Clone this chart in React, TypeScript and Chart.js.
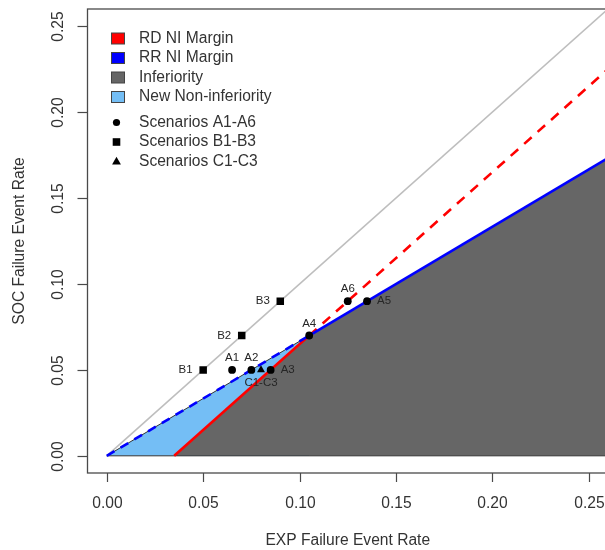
import React, { useEffect, useRef } from "react";
import { Chart, registerables } from "chart.js";

Chart.register(...registerables);

const FONT = "'Liberation Sans', Arial, Helvetica, sans-serif";

// Axis ticks
const xTickValues = [0, 0.05, 0.1, 0.15, 0.2, 0.25];
const yTickValues = [0, 0.05, 0.1, 0.15, 0.2, 0.25];
const xTickLabels = ["0.00", "0.05", "0.10", "0.15", "0.20", "0.25"];
const yTickLabels = ["0.00", "0.05", "0.10", "0.15", "0.20", "0.25"];
const xTitle = "EXP Failure Event Rate";
const yTitle = "SOC Failure Event Rate";

// Margin lines (EXP, SOC)
const diagonalX = [0, 0.27];
const diagonalY = [0, 0.27];
const rdSolidX = [0.035, 0.105];
const rdSolidY = [0, 0.07];
const rdDashX = [0.105, 0.3];
const rdDashY = [0.07, 0.265];
const rrSolidX = [0.105, 0.27];
const rrSolidY = [0.07, 0.18];
const rrDashX = [0, 0.105];
const rrDashY = [0, 0.07];
const baseX = [0, 0.27];
const baseY = [0, 0];

// Regions
const inferiorityX = [0.035, 0.105, 0.27];
const inferiorityY = [0, 0.07, 0.18];
const newNiX = [0, 0.105];
const newNiY = [0, 0.07];

// Scenarios
const scenarioALabels = ["A1", "A2", "A3", "A4", "A5", "A6"];
const scenarioAX = [0.065, 0.075, 0.085, 0.105, 0.135, 0.125];
const scenarioAY = [0.05, 0.05, 0.05, 0.07, 0.09, 0.09];
const scenarioAPlace = ["top", "top", "right", "top", "right", "top"];
const scenarioBLabels = ["B1", "B2", "B3"];
const scenarioBX = [0.05, 0.07, 0.09];
const scenarioBY = [0.05, 0.07, 0.09];
const scenarioBPlace = ["left", "left", "left"];
const scenarioCLabels = ["C1-C3"];
const scenarioCX = [0.08];
const scenarioCY = [0.05];
const scenarioCPlace = ["bottom"];

// Legend
const legendFillLabels = ["RD NI Margin", "RR NI Margin", "Inferiority", "New Non-inferiority"];
const legendFillColors = ["#ff0000", "#0000ff", "#666666", "#74bef5"];
const legendSymbolLabels = ["Scenarios A1-A6", "Scenarios B1-B3", "Scenarios C1-C3"];
const legendSymbolStyles = ["circle", "rect", "triangle"];

const pts = (xs: number[], ys: number[]) => xs.map((x, i) => ({ x, y: ys[i] }));

const decorPlugin = {
  id: "decor",
  afterDatasetsDraw(chart: any) {
    const { ctx, chartArea: a, scales } = chart;
    const xs = scales.x;
    const ys = scales.y;
    ctx.save();

    // point labels
    ctx.font = `11.5px ${FONT}`;
    ctx.fillStyle = "#262626";
    const put = (labels: string[], X: number[], Y: number[], place: string[]) => {
      labels.forEach((lab, i) => {
        const px = xs.getPixelForValue(X[i]);
        const py = ys.getPixelForValue(Y[i]);
        const p = place[i];
        ctx.textBaseline = "middle";
        if (p === "top") {
          ctx.textAlign = "center";
          ctx.fillText(lab, px, py - 12);
        } else if (p === "bottom") {
          ctx.textAlign = "center";
          ctx.fillText(lab, px, py + 12.5);
        } else if (p === "left") {
          ctx.textAlign = "right";
          ctx.fillText(lab, px - 10.5, py);
        } else {
          ctx.textAlign = "left";
          ctx.fillText(lab, px + 10, py);
        }
      });
    };
    put(scenarioALabels, scenarioAX, scenarioAY, scenarioAPlace);
    put(scenarioBLabels, scenarioBX, scenarioBY, scenarioBPlace);
    put(scenarioCLabels, scenarioCX, scenarioCY, scenarioCPlace);

    // box
    ctx.strokeStyle = "#4a4a4a";
    ctx.lineWidth = 1.3;
    ctx.strokeRect(a.left, a.top, a.right - a.left, a.bottom - a.top);

    // x axis ticks
    ctx.font = `15.6px ${FONT}`;
    ctx.fillStyle = "#333333";
    ctx.lineWidth = 1.2;
    xTickValues.forEach((v, i) => {
      const px = Math.round(xs.getPixelForValue(v)) + 0.5;
      ctx.beginPath();
      ctx.moveTo(px, a.bottom);
      ctx.lineTo(px, a.bottom + 9);
      ctx.stroke();
      ctx.textAlign = "center";
      ctx.textBaseline = "middle";
      ctx.fillText(xTickLabels[i], px, a.bottom + 31);
    });
    // y axis ticks
    yTickValues.forEach((v, i) => {
      const py = Math.round(ys.getPixelForValue(v)) + 0.5;
      ctx.beginPath();
      ctx.moveTo(a.left, py);
      ctx.lineTo(a.left - 10, py);
      ctx.stroke();
      ctx.save();
      ctx.translate(a.left - 29, py);
      ctx.rotate(-Math.PI / 2);
      ctx.textAlign = "center";
      ctx.textBaseline = "middle";
      ctx.fillText(yTickLabels[i], 0, 0);
      ctx.restore();
    });

    // titles
    ctx.textAlign = "center";
    ctx.textBaseline = "middle";
    ctx.fillText(xTitle, (a.left + a.right) / 2, a.bottom + 68);
    ctx.save();
    ctx.translate(20, (a.top + a.bottom) / 2);
    ctx.rotate(-Math.PI / 2);
    ctx.fillText(yTitle, 0, 0);
    ctx.restore();

    // legend
    const lx = a.left + 24;
    const tx = a.left + 51.5;
    ctx.textAlign = "left";
    ctx.textBaseline = "middle";
    legendFillLabels.forEach((lab, i) => {
      const cy = a.top + 29.5 + i * 19.5;
      ctx.fillStyle = legendFillColors[i];
      ctx.fillRect(lx, cy - 5.5, 13, 11);
      ctx.strokeStyle = "#444";
      ctx.lineWidth = 1;
      ctx.strokeRect(lx, cy - 5.5, 13, 11);
      ctx.fillStyle = "#333333";
      ctx.fillText(lab, tx, cy);
    });
    legendSymbolLabels.forEach((lab, i) => {
      const cy = a.top + 113.5 + i * 19.5;
      const cx = lx + 5;
      ctx.fillStyle = "#000";
      ctx.beginPath();
      if (legendSymbolStyles[i] === "circle") {
        ctx.arc(cx, cy, 3.6, 0, Math.PI * 2);
      } else if (legendSymbolStyles[i] === "rect") {
        ctx.rect(cx - 3.8, cy - 3.8, 7.6, 7.6);
      } else {
        ctx.moveTo(cx, cy - 4.8);
        ctx.lineTo(cx + 4.4, cy + 3);
        ctx.lineTo(cx - 4.4, cy + 3);
        ctx.closePath();
      }
      ctx.fill();
      ctx.fillStyle = "#333333";
      ctx.fillText(lab, tx, cy);
    });

    ctx.restore();
  },
};

export default function App() {
  const ref = useRef<HTMLCanvasElement | null>(null);
  useEffect(() => {
    if (!ref.current) return;
    const line = (data: any, color: string, width: number, dash: number[] = []) => ({
      data,
      borderColor: color,
      borderWidth: width,
      borderDash: dash,
      pointRadius: 0,
      fill: false,
      tension: 0,
      showLine: true,
    });
    const scatter = (data: any, style: string, radius: number) => ({
      data,
      showLine: false,
      pointStyle: style,
      pointRadius: radius,
      pointBackgroundColor: "#000",
      pointBorderColor: "#000",
      pointBorderWidth: 0,
      borderColor: "#000",
      backgroundColor: "#000",
    });
    const chart = new Chart(ref.current, {
      type: "line",
      data: {
        datasets: [
          scatter(pts(scenarioCX, scenarioCY), "triangle", 4.6),
          scatter(pts(scenarioBX, scenarioBY), "rect", 5.3),
          scatter(pts(scenarioAX, scenarioAY), "circle", 3.9),
          line(pts(rrSolidX, rrSolidY), "#0000ff", 2.6),
          line(pts(rrDashX, rrDashY), "#0000ff", 2.6, [9, 7]),
          line(pts(rdDashX, rdDashY), "#ff0000", 2.6, [10, 8]),
          line(pts(rdSolidX, rdSolidY), "#ff0000", 2.6),
          line(pts(diagonalX, diagonalY), "#bebebe", 1.6),
          line(pts(baseX, baseY), "#333333", 1),
          {
            data: pts(inferiorityX, inferiorityY),
            borderColor: "#333333",
            borderWidth: 1,
            backgroundColor: "#666666",
            fill: "origin",
            pointRadius: 0,
            tension: 0,
          },
          {
            data: pts(newNiX, newNiY),
            borderColor: "#333333",
            borderWidth: 1,
            backgroundColor: "#74bef5",
            fill: "origin",
            pointRadius: 0,
            tension: 0,
          },
        ] as any,
      },
      options: {
        animation: false,
        responsive: false,
        devicePixelRatio: 1,
        layout: { padding: { left: 87.5, right: 12, top: 9, bottom: 77 } },
        plugins: { legend: { display: false }, tooltip: { enabled: false } },
        events: [],
        scales: {
          x: { type: "linear", min: -0.01, max: 0.26, display: false },
          y: { type: "linear", min: -0.01, max: 0.26, display: false },
        },
      } as any,
      plugins: [decorPlugin],
    });
    return () => chart.destroy();
  }, []);
  return (
    <div
      style={{
        position: "absolute",
        left: 0,
        top: 0,
        width: 605,
        height: 550,
        overflow: "hidden",
        background: "#fff",
      }}
    >
      <canvas ref={ref} width={620} height={550} style={{ display: "block" }} />
    </div>
  );
}
